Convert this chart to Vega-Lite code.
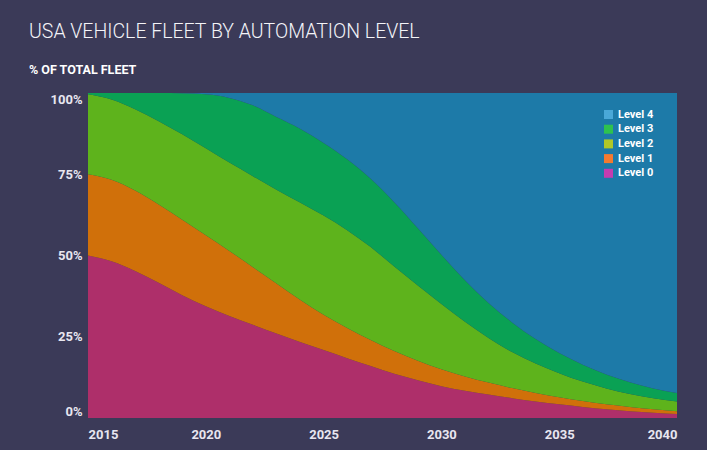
{
  "$schema": "https://vega.github.io/schema/vega-lite/v6.json",
  "width": 589,
  "height": 325,
  "autosize": {"type": "none"},
  "padding": {"left": 88, "top": 93, "right": 30, "bottom": 32},
  "background": "#3b3a58",
  "title": {
    "text": "USA VEHICLE FLEET BY AUTOMATION LEVEL",
    "subtitle": "% OF TOTAL FLEET",
    "anchor": "start",
    "frame": "group",
    "dx": -59,
    "offset": 15.5,
    "font": "Roboto",
    "fontSize": 19.5,
    "fontWeight": 300,
    "color": "#f4f4f8",
    "subtitleFont": "Roboto",
    "subtitleFontSize": 12.5,
    "subtitleFontWeight": "bold",
    "subtitleColor": "#ffffff",
    "subtitlePadding": 22
  },
  "data": {"values": [
    {"year":2015,"level":"Level 0","value":50.0},{"year":2015,"level":"Level 1","value":25.0},{"year":2015,"level":"Level 2","value":24.6},{"year":2015,"level":"Level 3","value":0.4},{"year":2015,"level":"Level 4","value":0},
    {"year":2016,"level":"Level 0","value":48.2},{"year":2016,"level":"Level 1","value":25.1},{"year":2016,"level":"Level 2","value":24.7},{"year":2016,"level":"Level 3","value":2.0},{"year":2016,"level":"Level 4","value":0},
    {"year":2017,"level":"Level 0","value":45.2},{"year":2017,"level":"Level 1","value":24.8},{"year":2017,"level":"Level 2","value":25.0},{"year":2017,"level":"Level 3","value":5.0},{"year":2017,"level":"Level 4","value":0},
    {"year":2018,"level":"Level 0","value":41.6},{"year":2018,"level":"Level 1","value":24.1},{"year":2018,"level":"Level 2","value":25.6},{"year":2018,"level":"Level 3","value":8.7},{"year":2018,"level":"Level 4","value":0},
    {"year":2019,"level":"Level 0","value":37.8},{"year":2019,"level":"Level 1","value":23.2},{"year":2019,"level":"Level 2","value":26.3},{"year":2019,"level":"Level 3","value":12.6},{"year":2019,"level":"Level 4","value":0.1},
    {"year":2020,"level":"Level 0","value":34.4},{"year":2020,"level":"Level 1","value":21.8},{"year":2020,"level":"Level 2","value":26.8},{"year":2020,"level":"Level 3","value":16.6},{"year":2020,"level":"Level 4","value":0.4},
    {"year":2021,"level":"Level 0","value":31.4},{"year":2021,"level":"Level 1","value":20.0},{"year":2021,"level":"Level 2","value":27.2},{"year":2021,"level":"Level 3","value":19.9},{"year":2021,"level":"Level 4","value":1.5},
    {"year":2022,"level":"Level 0","value":28.7},{"year":2022,"level":"Level 1","value":17.7},{"year":2022,"level":"Level 2","value":28.0},{"year":2022,"level":"Level 3","value":21.8},{"year":2022,"level":"Level 4","value":3.8},
    {"year":2023,"level":"Level 0","value":26.0},{"year":2023,"level":"Level 1","value":15.4},{"year":2023,"level":"Level 2","value":28.8},{"year":2023,"level":"Level 3","value":22.4},{"year":2023,"level":"Level 4","value":7.4},
    {"year":2024,"level":"Level 0","value":23.4},{"year":2024,"level":"Level 1","value":13.0},{"year":2024,"level":"Level 2","value":29.9},{"year":2024,"level":"Level 3","value":22.7},{"year":2024,"level":"Level 4","value":11.0},
    {"year":2025,"level":"Level 0","value":20.9},{"year":2025,"level":"Level 1","value":10.9},{"year":2025,"level":"Level 2","value":30.5},{"year":2025,"level":"Level 3","value":22.3},{"year":2025,"level":"Level 4","value":15.4},
    {"year":2026,"level":"Level 0","value":18.4},{"year":2026,"level":"Level 1","value":9.3},{"year":2026,"level":"Level 2","value":30.1},{"year":2026,"level":"Level 3","value":21.8},{"year":2026,"level":"Level 4","value":20.4},
    {"year":2027,"level":"Level 0","value":16.0},{"year":2027,"level":"Level 1","value":8.0},{"year":2027,"level":"Level 2","value":28.6},{"year":2027,"level":"Level 3","value":21.0},{"year":2027,"level":"Level 4","value":26.4},
    {"year":2028,"level":"Level 0","value":13.6},{"year":2028,"level":"Level 1","value":7.0},{"year":2028,"level":"Level 2","value":26.0},{"year":2028,"level":"Level 3","value":19.8},{"year":2028,"level":"Level 4","value":33.6},
    {"year":2029,"level":"Level 0","value":11.6},{"year":2029,"level":"Level 1","value":6.0},{"year":2029,"level":"Level 2","value":23.2},{"year":2029,"level":"Level 3","value":17.6},{"year":2029,"level":"Level 4","value":41.6},
    {"year":2030,"level":"Level 0","value":9.8},{"year":2030,"level":"Level 1","value":5.2},{"year":2030,"level":"Level 2","value":20.1},{"year":2030,"level":"Level 3","value":15.1},{"year":2030,"level":"Level 4","value":49.8},
    {"year":2031,"level":"Level 0","value":8.4},{"year":2031,"level":"Level 1","value":4.4},{"year":2031,"level":"Level 2","value":16.8},{"year":2031,"level":"Level 3","value":12.8},{"year":2031,"level":"Level 4","value":57.6},
    {"year":2032,"level":"Level 0","value":7.2},{"year":2032,"level":"Level 1","value":3.7},{"year":2032,"level":"Level 2","value":13.7},{"year":2032,"level":"Level 3","value":10.8},{"year":2032,"level":"Level 4","value":64.6},
    {"year":2033,"level":"Level 0","value":6.1},{"year":2033,"level":"Level 1","value":3.1},{"year":2033,"level":"Level 2","value":11.1},{"year":2033,"level":"Level 3","value":9.1},{"year":2033,"level":"Level 4","value":70.6},
    {"year":2034,"level":"Level 0","value":5.1},{"year":2034,"level":"Level 1","value":2.6},{"year":2034,"level":"Level 2","value":9.1},{"year":2034,"level":"Level 3","value":7.5},{"year":2034,"level":"Level 4","value":75.7},
    {"year":2035,"level":"Level 0","value":4.2},{"year":2035,"level":"Level 1","value":2.2},{"year":2035,"level":"Level 2","value":7.4},{"year":2035,"level":"Level 3","value":6.2},{"year":2035,"level":"Level 4","value":80.0},
    {"year":2036,"level":"Level 0","value":3.4},{"year":2036,"level":"Level 1","value":1.8},{"year":2036,"level":"Level 2","value":6.0},{"year":2036,"level":"Level 3","value":5.2},{"year":2036,"level":"Level 4","value":83.6},
    {"year":2037,"level":"Level 0","value":2.7},{"year":2037,"level":"Level 1","value":1.5},{"year":2037,"level":"Level 2","value":4.9},{"year":2037,"level":"Level 3","value":4.3},{"year":2037,"level":"Level 4","value":86.6},
    {"year":2038,"level":"Level 0","value":2.1},{"year":2038,"level":"Level 1","value":1.3},{"year":2038,"level":"Level 2","value":4.0},{"year":2038,"level":"Level 3","value":3.6},{"year":2038,"level":"Level 4","value":89.0},
    {"year":2039,"level":"Level 0","value":1.6},{"year":2039,"level":"Level 1","value":1.1},{"year":2039,"level":"Level 2","value":3.4},{"year":2039,"level":"Level 3","value":3.0},{"year":2039,"level":"Level 4","value":90.9},
    {"year":2040,"level":"Level 0","value":1.2},{"year":2040,"level":"Level 1","value":0.9},{"year":2040,"level":"Level 2","value":3.0},{"year":2040,"level":"Level 3","value":2.6},{"year":2040,"level":"Level 4","value":92.3}
  ]},
  "layer": [
    {
      "mark": {"type": "area", "interpolate": "monotone"},
      "encoding": {
        "x": {
          "field": "year", "type": "quantitative",
          "scale": {"domain": [2015, 2040], "nice": false, "zero": false},
          "axis": {
            "values": [2015, 2020, 2025, 2030, 2035, 2040], "format": "d", "title": null,
            "labelFlush": true, "ticks": false, "domain": false, "grid": false,
            "labelPadding": 10, "labelFont": "Roboto", "labelFontSize": 13, "labelFontWeight": "bold", "labelColor": "#e8e6f0"
          }
        },
        "y": {
          "field": "value", "type": "quantitative", "stack": "zero",
          "scale": {"domain": [0, 100], "nice": false},
          "axis": {
            "values": [0, 25, 50, 75, 100], "labelExpr": "datum.value + '%'", "title": null,
            "labelFlush": true, "ticks": false, "domain": false, "grid": false,
            "labelPadding": 6, "labelFont": "Roboto", "labelFontSize": 13, "labelFontWeight": "bold", "labelColor": "#e8e6f0"
          }
        },
        "color": {
          "field": "level", "type": "nominal",
          "scale": {
            "domain": ["Level 0", "Level 1", "Level 2", "Level 3", "Level 4"],
            "range": ["#ae2f6a", "#d0700a", "#5eb31c", "#0aa154", "#1d7aa8"]
          },
          "legend": null
        },
        "order": {"field": "level", "type": "ordinal", "sort": "ascending"}
      }
    },
    {
      "mark": {"type": "square", "size": 1, "opacity": 0, "filled": true},
      "encoding": {
        "fill": {
          "field": "level", "type": "nominal",
          "scale": {
            "domain": ["Level 4", "Level 3", "Level 2", "Level 1", "Level 0"],
            "range": ["#4aa8d8", "#2ec24e", "#b0c828", "#f47a30", "#c43cb0"]
          },
          "legend": {
            "orient": "none", "legendX": 515, "legendY": 16, "title": null, "padding": 0,
            "symbolType": "square", "symbolSize": 81, "symbolStrokeWidth": 0, "symbolOpacity": 1,
            "labelColor": "#ffffff", "labelFont": "Roboto", "labelFontSize": 11, "labelFontWeight": "bold",
            "rowPadding": 2.7, "labelOffset": 4
          }
        }
      }
    }
  ],
  "config": {"view": {"stroke": null}}
}
